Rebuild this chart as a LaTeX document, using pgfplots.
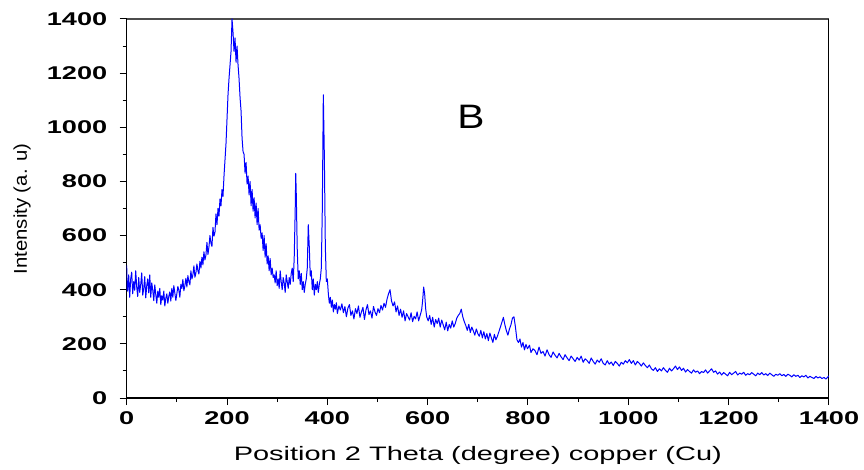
\documentclass[border=0pt]{standalone}
\usepackage{pgfplots}
\pgfplotsset{compat=1.18}
\usepackage{graphicx}
\usepackage{fontspec}
\setmainfont{Liberation Sans}
\begin{document}
\begin{tikzpicture}
\begin{axis}[
  scale only axis,
  width=704bp, height=380bp,
  xmin=0, xmax=1400, ymin=0, ymax=1400,
  axis line style={line width=1.4bp},
  axis x line*=bottom, axis y line*=left,
  xtick={0,200,...,1400}, ytick={0,200,...,1400},
  minor x tick num=1, minor y tick num=1,
  tick align=outside,
  major tick length=7bp, minor tick length=4bp,
  tick style={line width=1bp, black},
  /pgf/number format/assume math mode=true,
  /pgf/number format/set thousands separator={},
  ticklabel style={font=\fontsize{18.5bp}{20bp}\selectfont\bfseries, xscale=1.47},
  xticklabel style={yshift=-3bp},
  yticklabel style={xshift=-5bp},
  clip=true,
]
\draw[line width=1.5bp, black!70] (axis cs:0,1400) -- (axis cs:1400,1400);
\draw[line width=1.2bp, black] (axis cs:1400,0) -- (axis cs:1400,1400);
\addplot[blue, line width=1bp, no marks, line join=round] coordinates {
(0,490)(1,400)(2,395)(4,455)(6,372)(8,440)(10,465)(12,385)(14,430)(16,398)(18,470)
(20,410)(22,375)(24,445)(26,390)(28,420)(30,462)(32,380)(34,405)(36,448)(38,370)
(40,415)(42,440)(44,388)(46,455)(48,372)(50,425)(52,398)(54,360)(56,418)(58,382)
(60,350)(62,395)(64,372)(66,405)(68,345)(70,378)(72,362)(74,395)(76,340)(78,368)
(80,385)(82,350)(84,376)(86,392)(88,358)(90,405)(92,372)(94,415)(96,388)(98,360)
(100,385)(102,412)(104,398)(106,372)(108,420)(110,405)(112,438)(114,396)(116,415)(118,442)
(120,410)(122,452)(124,430)(126,418)(128,470)(130,440)(132,455)(134,488)(136,446)(138,462)
(140,495)(142,470)(144,458)(146,505)(148,480)(150,520)(152,492)(154,540)(156,510)(158,528)
(160,575)(162,530)(164,558)(166,600)(168,572)(170,560)(172,630)(174,598)(176,612)(178,680)
(180,640)(182,700)(184,672)(186,735)(188,710)(190,770)(192,745)(194,820)(196,880)(198,940)
(200,1030)(202,1120)(204,1180)(206,1230)(208,1280)(210,1400)(212,1350)(214,1280)(216,1330)(218,1240)
(220,1300)(222,1230)(224,1180)(226,1110)(228,1060)(230,960)(232,910)(234,900)(236,830)(238,870)
(240,790)(242,820)(244,750)(246,800)(248,710)(250,770)(252,690)(254,740)(256,665)(258,720)
(260,640)(262,700)(264,620)(266,640)(268,590)(270,610)(272,545)(274,600)(276,520)(278,570)
(280,495)(282,525)(284,470)(286,515)(288,455)(290,480)(292,445)(294,455)(296,425)(298,470)
(300,415)(302,440)(304,405)(306,470)(308,430)(310,400)(312,445)(314,425)(316,390)(318,455)
(320,430)(322,405)(324,445)(326,420)(328,460)(330,480)(332,430)(334,520)(336,700)(337,830)
(338,760)(340,550)(342,440)(344,470)(346,420)(348,460)(350,400)(352,430)(354,390)(356,420)
(358,440)(360,480)(362,640)(364,560)(366,450)(368,470)(370,400)(372,440)(374,380)(376,420)
(378,400)(380,430)(382,390)(384,420)(386,440)(388,480)(390,700)(392,1120)(394,900)(396,560)
(398,430)(400,440)(402,385)(404,350)(406,372)(408,335)(410,362)(412,318)(414,345)(416,328)
(418,352)(420,312)(423,340)(426,325)(429,348)(432,315)(435,338)(438,300)(441,332)(444,345)
(447,305)(450,322)(453,292)(456,330)(459,312)(462,340)(465,298)(468,318)(471,335)(474,290)
(477,325)(480,345)(483,308)(486,322)(489,295)(492,338)(495,318)(498,305)(501,330)(504,315)
(507,342)(510,325)(513,350)(516,335)(519,365)(522,385)(525,400)(528,358)(531,340)(534,355)
(537,318)(540,340)(543,305)(546,328)(549,298)(552,322)(555,285)(558,312)(561,300)(564,288)
(567,315)(570,282)(573,302)(576,292)(579,318)(582,285)(585,305)(588,325)(590,360)(592,410)
(594,385)(596,330)(598,300)(601,285)(604,305)(607,272)(610,298)(613,262)(616,290)(619,275)
(622,295)(625,262)(628,288)(631,270)(634,252)(637,280)(640,248)(643,272)(646,258)(649,285)
(652,262)(655,275)(658,295)(661,305)(664,312)(667,328)(670,300)(673,282)(676,268)(679,250)
(682,272)(685,242)(688,262)(691,248)(694,232)(697,255)(700,238)(703,228)(706,250)(709,222)
(712,245)(715,218)(718,238)(721,212)(724,240)(727,222)(730,205)(733,235)(736,215)(739,228)
(742,245)(745,262)(748,280)(751,298)(754,270)(757,248)(760,232)(763,255)(766,270)(769,295)
(772,300)(775,262)(778,215)(781,205)(784,218)(787,188)(790,205)(793,178)(796,198)(799,182)
(803,195)(806,168)(810,182)(814,175)(818,160)(822,188)(826,165)(830,172)(834,155)(838,178)
(842,160)(846,150)(850,170)(854,158)(858,148)(862,165)(866,152)(870,142)(874,160)(878,148)
(882,138)(886,155)(890,145)(894,135)(898,150)(902,140)(906,155)(910,132)(914,145)(918,138)
(922,128)(926,148)(930,135)(934,125)(938,140)(942,132)(946,145)(950,128)(954,122)(958,138)
(962,125)(966,133)(970,120)(974,135)(978,128)(982,118)(986,132)(990,125)(994,138)(998,130)
(1002,142)(1006,128)(1010,138)(1014,122)(1018,135)(1022,128)(1026,118)(1030,130)(1034,120)(1038,112)
(1042,122)(1046,108)(1050,102)(1054,112)(1058,98)(1062,108)(1066,100)(1070,112)(1074,102)(1078,95)
(1082,110)(1086,100)(1090,108)(1094,118)(1098,105)(1102,115)(1106,102)(1110,110)(1114,96)(1118,105)
(1122,98)(1126,92)(1130,104)(1134,95)(1138,100)(1142,90)(1146,98)(1150,94)(1154,104)(1158,92)
(1162,100)(1166,108)(1170,95)(1174,100)(1178,88)(1182,96)(1186,85)(1190,94)(1194,88)(1198,82)
(1202,95)(1206,86)(1210,92)(1214,98)(1218,85)(1222,92)(1226,88)(1230,95)(1234,84)(1238,90)
(1242,86)(1246,94)(1250,88)(1254,82)(1258,92)(1262,86)(1266,94)(1270,85)(1274,90)(1278,83)
(1282,92)(1286,86)(1290,80)(1294,88)(1298,84)(1302,90)(1306,82)(1310,87)(1314,80)(1318,88)
(1322,84)(1326,78)(1330,86)(1334,80)(1338,84)(1342,76)(1346,82)(1350,78)(1354,84)(1358,74)
(1362,80)(1366,76)(1370,72)(1374,80)(1378,74)(1382,78)(1386,72)(1390,76)(1394,70)(1398,78)
(1400,82)
};
\end{axis}
\node[font=\fontsize{34bp}{36bp}\selectfont, xscale=1.2] at ([xshift=345bp,yshift=-98bp]current axis.north west) {B};
\node[anchor=base, font=\fontsize{19.5bp}{21bp}\selectfont] at ([yshift=-63bp]current axis.south) {\scalebox{1.49}[1]{Position 2 Theta (degree) copper (Cu)}};
\node[anchor=base, rotate=90, font=\fontsize{18.5bp}{20bp}\selectfont] at ([xshift=-100bp,yshift=-0.5bp]current axis.west) {\scalebox{1.1}[1]{Intensity (a. u)}};
\path[use as bounding box] (current axis.south west) ++(-127bp,-72bp) rectangle ++(864bp,471bp);
\end{tikzpicture}
\end{document}
